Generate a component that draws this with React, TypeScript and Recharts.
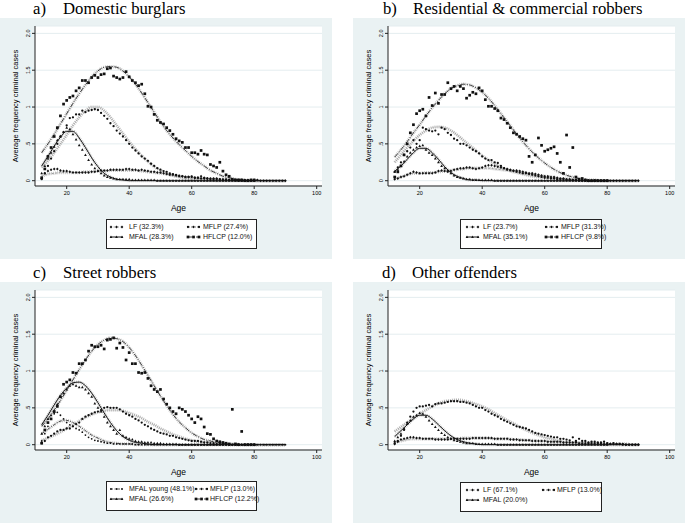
import React from 'react';
import { LineChart, Line, XAxis, YAxis, CartesianGrid } from 'recharts';

const _ = null;

// ages with observed averages (one point per year)
const AGES = [
  12, 13, 14, 15, 16, 17, 18, 19, 20, 21, 22, 23, 24, 25, 26, 27, 28, 29, 30, 31,
  32, 33, 34, 35, 36, 37, 38, 39, 40, 41, 42, 43, 44, 45, 46, 47, 48, 49, 50, 51,
  52, 53, 54, 55, 56, 57, 58, 59, 60, 61, 62, 63, 64, 65, 66, 67, 68, 69, 70, 71,
  72, 73, 74, 75, 76, 77, 78, 79, 80, 81, 82, 83, 84, 85, 86, 87, 88, 89, 90,
];
// ages at which the fitted trajectories were read
const FIT_AGES = [
  12, 14, 16, 18, 20, 22, 24, 26, 28, 30, 32, 34, 36, 38, 40, 42, 44, 46, 48, 50,
  52, 54, 56, 58, 60, 62, 64, 66, 68, 70, 72, 74, 76, 78, 80, 82, 84, 86, 88, 90,
];
const X_TICKS = [20, 40, 60, 80, 100];
const Y_TICKS = [0, 0.5, 1, 1.5, 2];

// ---- a) Domestic burglars
const A_LF_OBS = [
  0.03, 0.10, 0.13, 0.15, 0.16, 0.16, 0.14, 0.13, 0.13, 0.12,
  0.11, 0.11, 0.11, 0.11, 0.11, 0.11, 0.12, 0.12, 0.13, 0.14,
  0.14, 0.14, 0.15, 0.15, 0.15, 0.15, 0.15, 0.16, 0.16, 0.15,
  0.15, 0.14, 0.15, 0.14, 0.13, 0.12, 0.12, 0.11, 0.11, 0.10,
  0.09, 0.08, 0.08, 0.07, 0.06, 0.06, 0.05, 0.05, 0.05, 0.04,
  0.04, 0.06, 0.04, 0.03, 0.03, 0.03, 0.03, 0.02, 0.02, 0.02,
  0.01, 0.01, 0.01, 0.01, 0.01, 0.01, 0.01, 0.01, 0.01, 0.01,
  0, 0, 0, 0, 0, 0, 0, 0, 0,
];
const A_MFLP_OBS = [
  0.02, 0.10, 0.20, 0.30, 0.40, 0.50, 0.60, 0.66, 0.75, 0.85,
  0.86, 0.90, 0.90, 0.95, 0.93, 0.95, 0.96, 0.97, 0.96, 0.92,
  0.88, 0.84, 0.78, 0.74, 0.68, 0.64, 0.60, 0.55, 0.50, 0.45,
  0.41, 0.37, 0.33, 0.30, 0.27, 0.23, 0.20, 0.17, 0.15, 0.13,
  0.12, 0.10, 0.09, 0.08, 0.07, 0.06, 0.05, 0.05, 0.06, 0.04,
  0.04, 0.03, 0.03, 0.03, 0.02, 0.02, 0.02, 0.02, 0.01, 0.01,
  0.01, 0.01, 0.01, 0, 0, 0, 0, 0, 0, _,
  _, _, _, _, _, _, _, _, _,
];
const A_MFAL_OBS = [
  0.10, 0.20, 0.30, 0.38, 0.46, 0.55, 0.60, 0.66, 0.72, 0.70,
  0.63, 0.56, 0.48, 0.42, 0.35, 0.28, 0.22, 0.17, 0.13, 0.10,
  0.07, 0.05, 0.04, 0.03, 0.02, 0.02, 0.02, 0.02, 0.02, 0.01,
  0.01, 0.01, 0.01, 0.01, 0.01, 0.01, 0.01, 0, 0, 0,
  0, 0, 0, 0, 0, 0, 0, 0, 0, 0,
  0, 0, 0, 0, 0, 0, 0, 0, 0, 0,
  0, 0, 0, 0, 0, 0, 0, 0, 0, _,
  _, _, _, _, _, _, _, _, _,
];
const A_HFLCP_OBS = [
  0.04, 0.16, 0.33, 0.45, 0.60, 0.72, 0.88, 1.04, 1.09, 1.13,
  1.15, 1.22, 1.26, 1.36, 1.36, 1.33, 1.40, 1.43, 1.40, 1.44,
  1.45, 1.52, 1.53, 1.42, 1.40, 1.38, 1.40, 1.48, 1.41, 1.36,
  1.33, 1.29, 1.31, 1.18, 1.01, 1.00, 0.90, 0.82, 0.79, 0.77,
  0.72, 0.68, 0.63, 0.57, 0.54, 0.52, 0.45, 0.45, 0.38, 0.38,
  0.36, 0.41, 0.36, 0.35, 0.22, 0.20, 0.18, 0.25, 0.13, 0.08,
  0.06, 0.02, 0.01, 0.01, 0.01, 0, 0, 0.01, 0.01, _,
  _, _, _, _, _, _, _, _, _,
];
const A_LF_FIT = [
  0.06, 0.09, 0.10, 0.11, 0.11, 0.11, 0.11, 0.12, 0.12, 0.13,
  0.13, 0.14, 0.14, 0.14, 0.14, 0.14, 0.13, 0.12, 0.11, 0.10,
  0.09, 0.07, 0.06, 0.05, 0.04, 0.03, 0.03, 0.02, 0.02, 0.01,
  0.01, 0.01, 0.01, 0, 0, 0, 0, 0, 0, 0,
];
const A_MFLP_FIT = [
  0.18, 0.27, 0.38, 0.50, 0.62, 0.75, 0.86, 0.95, 1.00, 1.00,
  0.95, 0.86, 0.75, 0.64, 0.53, 0.43, 0.34, 0.26, 0.19, 0.14,
  0.10, 0.07, 0.05, 0.03, 0.02, 0.01, 0.01, 0.01, 0, 0,
  0, 0, 0, 0, 0, 0, 0, 0, 0, 0,
];
const A_MFAL_FIT = [
  0.20, 0.33, 0.47, 0.59, 0.67, 0.67, 0.58, 0.45, 0.31, 0.19,
  0.10, 0.05, 0.02, 0.01, 0, 0, 0, 0, 0, 0,
  0, 0, 0, 0, 0, 0, 0, 0, 0, 0,
  0, 0, 0, 0, 0, 0, 0, 0, 0, 0,
];
const A_HFLCP_FIT = [
  0.38, 0.50, 0.63, 0.77, 0.91, 1.05, 1.18, 1.30, 1.41, 1.49,
  1.54, 1.55, 1.54, 1.49, 1.41, 1.31, 1.19, 1.06, 0.93, 0.80,
  0.68, 0.58, 0.49, 0.41, 0.33, 0.26, 0.20, 0.14, 0.10, 0.06,
  0.04, 0.02, 0.01, 0, 0, 0, 0, 0, 0, 0,
];

// ---- b) Residential & commercial robbers
const B_LF_OBS = [
  0.02, 0.03, 0.05, 0.06, 0.08, 0.10, 0.12, 0.11, 0.10, 0.10,
  0.10, 0.10, 0.10, 0.11, 0.13, 0.14, 0.13, 0.12, 0.13, 0.15,
  0.16, 0.17, 0.17, 0.18, 0.18, 0.17, 0.16, 0.17, 0.18, 0.20,
  0.21, 0.21, 0.20, 0.19, 0.18, 0.17, 0.16, 0.15, 0.14, 0.14,
  0.13, 0.12, 0.11, 0.10, 0.10, 0.09, 0.08, 0.07, 0.06, 0.06,
  0.05, 0.05, 0.04, 0.03, 0.03, 0.02, 0.02, 0.01, 0.01, 0.01,
  0.01, 0.01, 0, 0, 0, 0, 0, 0, 0, 0,
  0, 0, 0, 0, 0, 0, 0, 0, 0,
];
const B_MFLP_OBS = [
  0.12, 0.18, 0.25, 0.35, 0.40, 0.45, 0.55, 0.50, 0.55, 0.72,
  0.70, 0.68, 0.67, 0.68, 0.63, 0.72, 0.70, 0.65, 0.62, 0.57,
  0.55, 0.50, 0.50, 0.48, 0.45, 0.42, 0.40, 0.37, 0.33, 0.30,
  0.28, 0.28, 0.25, 0.24, 0.20, 0.17, 0.15, 0.14, 0.13, 0.12,
  0.11, 0.10, 0.10, 0.09, 0.08, 0.07, 0.06, 0.05, 0.04, 0.04,
  0.03, 0.03, 0.02, 0.02, 0.02, 0.01, 0.01, 0.01, 0.01, 0,
  0, 0, 0, 0, 0, 0, 0, 0, 0, _,
  _, _, _, _, _, _, _, _, _,
];
const B_MFAL_OBS = [
  0.12, 0.15, 0.20, 0.26, 0.33, 0.38, 0.42, 0.45, 0.47, 0.48,
  0.42, 0.38, 0.35, 0.30, 0.25, 0.20, 0.17, 0.14, 0.10, 0.07,
  0.05, 0.04, 0.03, 0.02, 0.02, 0.01, 0.01, 0.01, 0.01, 0.01,
  0.01, 0.01, 0, 0, 0, 0, 0, 0, 0, 0,
  0, 0, 0, 0, 0, 0, 0, 0, 0, 0,
  0, 0, 0, 0, 0, 0, 0, 0, 0, 0,
  0, 0, 0, 0, 0, 0, 0, 0, 0, _,
  _, _, _, _, _, _, _, _, _,
];
const B_HFLCP_OBS = [
  0.05, 0.12, 0.20, 0.35, 0.50, 0.65, 0.76, 0.91, 0.95, 0.97,
  0.88, 1.13, 1.02, 1.19, 1.05, 1.17, 1.17, 1.33, 1.25, 1.28,
  1.22, 1.28, 1.25, 1.12, 1.16, 1.20, 1.18, 1.26, 1.22, 1.10,
  1.01, 1.01, 0.98, 0.95, 0.85, 0.83, 0.78, 0.72, 0.65, 0.63,
  0.60, 0.57, 0.55, 0.33, 0.25, 0.35, 0.58, 0.48, 0.40, 0.42,
  0.44, 0.46, 0.37, 0.25, 0.10, 0.62, 0.18, 0.45, 0.05, 0.02,
  0.03, 0.01, 0, 0, 0, 0, 0, 0, 0, _,
  _, _, _, _, _, _, _, _, _,
];
const B_LF_FIT = [
  0.03, 0.05, 0.08, 0.10, 0.10, 0.11, 0.11, 0.12, 0.13, 0.14,
  0.15, 0.16, 0.17, 0.17, 0.17, 0.17, 0.16, 0.15, 0.14, 0.13,
  0.12, 0.10, 0.09, 0.07, 0.06, 0.05, 0.03, 0.02, 0.02, 0.01,
  0.01, 0, 0, 0, 0, 0, 0, 0, 0, 0,
];
const B_MFLP_FIT = [
  0.25, 0.35, 0.45, 0.54, 0.62, 0.68, 0.72, 0.73, 0.72, 0.68,
  0.62, 0.55, 0.48, 0.41, 0.34, 0.28, 0.23, 0.18, 0.15, 0.12,
  0.10, 0.08, 0.06, 0.05, 0.04, 0.03, 0.02, 0.02, 0.01, 0.01,
  0, 0, 0, 0, 0, 0, 0, 0, 0, 0,
];
const B_MFAL_FIT = [
  0.13, 0.20, 0.29, 0.38, 0.44, 0.44, 0.38, 0.29, 0.19, 0.11,
  0.06, 0.03, 0.01, 0.01, 0, 0, 0, 0, 0, 0,
  0, 0, 0, 0, 0, 0, 0, 0, 0, 0,
  0, 0, 0, 0, 0, 0, 0, 0, 0, 0,
];
const B_HFLCP_FIT = [
  0.32, 0.42, 0.53, 0.65, 0.76, 0.88, 0.99, 1.09, 1.18, 1.25,
  1.29, 1.31, 1.30, 1.26, 1.20, 1.12, 1.02, 0.91, 0.80, 0.69,
  0.58, 0.48, 0.39, 0.31, 0.24, 0.18, 0.13, 0.09, 0.06, 0.04,
  0.02, 0.01, 0.01, 0, 0, 0, 0, 0, 0, 0,
];

// ---- c) Street robbers
const C_YOUNG_OBS = [
  0.05, 0.15, 0.25, 0.35, 0.42, 0.44, 0.40, 0.35, 0.30, 0.27,
  0.25, 0.22, 0.20, 0.17, 0.13, 0.10, 0.08, 0.06, 0.05, 0.04,
  0.03, 0.02, 0.02, 0.01, 0.01, 0.01, 0.01, 0.01, 0.01, 0.01,
  0, 0, 0, 0, 0, 0, 0, 0, 0, 0,
  0, 0, 0, 0, 0, 0, 0, 0, 0, 0,
  0, 0, 0, 0, 0, 0, 0, 0, 0, 0,
  0, 0, 0, 0, 0, 0, 0, 0, 0, 0,
  0, 0, 0, 0, 0, 0, 0, 0, 0,
];
const C_MFLP_OBS = [
  0.02, 0.05, 0.10, 0.12, 0.15, 0.18, 0.20, 0.20, 0.22, 0.22,
  0.25, 0.28, 0.30, 0.35, 0.38, 0.40, 0.42, 0.44, 0.45, 0.47,
  0.50, 0.51, 0.50, 0.50, 0.50, 0.48, 0.45, 0.42, 0.40, 0.38,
  0.35, 0.33, 0.30, 0.27, 0.25, 0.22, 0.20, 0.18, 0.16, 0.15,
  0.14, 0.12, 0.12, 0.10, 0.09, 0.08, 0.07, 0.06, 0.05, 0.05,
  0.05, 0.04, 0.03, 0.03, 0.02, 0.02, 0.01, 0.01, 0.01, 0.01,
  0, 0, 0, 0, 0, 0, 0, 0, 0, _,
  _, _, _, _, _, _, _, _, _,
];
const C_MFAL_OBS = [
  0.15, 0.25, 0.35, 0.40, 0.45, 0.55, 0.65, 0.70, 0.75, 0.80,
  0.82, 0.80, 0.78, 0.78, 0.75, 0.70, 0.65, 0.56, 0.50, 0.45,
  0.38, 0.30, 0.25, 0.20, 0.15, 0.20, 0.12, 0.10, 0.08, 0.07,
  0.05, 0.04, 0.04, 0.03, 0.03, 0.03, 0.02, 0.02, 0.02, 0.01,
  0.01, 0.01, 0.01, 0.01, 0, 0, 0, 0, 0, 0,
  0, 0, 0, 0, 0, 0, 0, 0, 0, 0,
  0, 0, 0, 0, 0, 0, 0, 0, 0, _,
  _, _, _, _, _, _, _, _, _,
];
const C_HFLCP_OBS = [
  0.02, 0.20, 0.30, 0.35, 0.45, 0.52, 0.65, 0.82, 0.85, 0.88,
  0.98, 0.97, 1.10, 1.10, 1.15, 1.27, 1.35, 1.33, 1.33, 1.35,
  1.30, 1.42, 1.43, 1.45, 1.31, 1.38, 1.32, 1.15, 1.25, 1.10,
  1.10, 0.98, 0.97, 0.98, 0.90, 0.80, 0.75, 0.72, 0.75, 0.62,
  0.55, 0.50, 0.45, 0.42, 0.50, 0.48, 0.45, 0.40, 0.35, 0.30,
  0.38, 0.35, 0.24, 0.15, 0.14, 0.08, 0.05, 0.04, 0.03, 0.02,
  0.01, 0.48, 0.01, 0, 0.18, 0, 0, 0, 0, _,
  _, _, _, _, _, _, _, _, _,
];
const C_YOUNG_FIT = [
  0.15, 0.21, 0.27, 0.32, 0.33, 0.30, 0.25, 0.19, 0.13, 0.09,
  0.05, 0.03, 0.02, 0.01, 0.01, 0, 0, 0, 0, 0,
  0, 0, 0, 0, 0, 0, 0, 0, 0, 0,
  0, 0, 0, 0, 0, 0, 0, 0, 0, 0,
];
const C_MFLP_FIT = [
  0.06, 0.09, 0.13, 0.17, 0.22, 0.27, 0.32, 0.37, 0.41, 0.44,
  0.46, 0.47, 0.47, 0.46, 0.43, 0.40, 0.36, 0.31, 0.27, 0.22,
  0.18, 0.14, 0.11, 0.08, 0.06, 0.04, 0.03, 0.02, 0.01, 0.01,
  0, 0, 0, 0, 0, 0, 0, 0, 0, 0,
];
const C_MFAL_FIT = [
  0.27, 0.40, 0.54, 0.67, 0.77, 0.84, 0.85, 0.80, 0.70, 0.57,
  0.43, 0.30, 0.19, 0.11, 0.06, 0.03, 0.02, 0.01, 0, 0,
  0, 0, 0, 0, 0, 0, 0, 0, 0, 0,
  0, 0, 0, 0, 0, 0, 0, 0, 0, 0,
];
const C_HFLCP_FIT = [
  0.25, 0.35, 0.47, 0.60, 0.74, 0.88, 1.02, 1.15, 1.27, 1.36,
  1.42, 1.45, 1.44, 1.40, 1.32, 1.21, 1.08, 0.94, 0.80, 0.66,
  0.53, 0.41, 0.31, 0.23, 0.16, 0.11, 0.07, 0.05, 0.03, 0.02,
  0.01, 0.01, 0, 0, 0, 0, 0, 0, 0, 0,
];

// ---- d) Other offenders
const D_LF_OBS = [
  0.01, 0.04, 0.07, 0.08, 0.09, 0.10, 0.10, 0.09, 0.09, 0.08,
  0.08, 0.08, 0.08, 0.07, 0.07, 0.07, 0.07, 0.07, 0.08, 0.08,
  0.08, 0.08, 0.08, 0.08, 0.08, 0.09, 0.09, 0.09, 0.09, 0.09,
  0.09, 0.09, 0.08, 0.08, 0.08, 0.08, 0.08, 0.07, 0.07, 0.07,
  0.06, 0.06, 0.06, 0.06, 0.05, 0.05, 0.05, 0.05, 0.05, 0.04,
  0.04, 0.04, 0.04, 0.04, 0.03, 0.03, 0.03, 0.03, 0.03, 0.02,
  0.02, 0.02, 0.02, 0.02, 0.02, 0.02, 0.02, 0.01, 0.01, 0.01,
  0.01, 0.01, 0.01, 0, 0, 0, 0, 0, 0,
];
const D_MFLP_OBS = [
  0.02, 0.05, 0.12, 0.20, 0.30, 0.38, 0.45, 0.50, 0.52, 0.52,
  0.53, 0.54, 0.52, 0.55, 0.56, 0.56, 0.57, 0.58, 0.59, 0.59,
  0.59, 0.58, 0.58, 0.57, 0.56, 0.54, 0.52, 0.50, 0.50, 0.47,
  0.45, 0.42, 0.40, 0.38, 0.35, 0.33, 0.31, 0.29, 0.27, 0.25,
  0.24, 0.23, 0.22, 0.20, 0.18, 0.16, 0.15, 0.14, 0.13, 0.12,
  0.11, 0.10, 0.10, 0.08, 0.08, 0.07, 0.06, 0.10, 0.05, 0.08,
  0.05, 0.05, 0.03, 0.04, 0.04, 0.03, 0.03, 0.04, 0.02, 0.01,
  0.02, 0.01, 0.01, 0.01, 0, 0, 0, 0, 0,
];
const D_MFAL_OBS = [
  0.05, 0.10, 0.15, 0.22, 0.28, 0.33, 0.38, 0.40, 0.43, 0.42,
  0.38, 0.33, 0.28, 0.24, 0.20, 0.16, 0.13, 0.10, 0.08, 0.06,
  0.05, 0.04, 0.03, 0.02, 0.02, 0.02, 0.01, 0.01, 0.01, 0.01,
  0.01, 0.01, 0.01, 0, 0, 0, 0, 0, 0, 0,
  0, 0, 0, 0, 0, 0, 0, 0, 0, 0,
  0, 0, 0, 0, 0, 0, 0, 0, 0, 0,
  0, 0, 0, 0, 0, 0, 0, 0, 0, _,
  _, _, _, _, _, _, _, _, _,
];
const D_LF_FIT = [
  0.03, 0.05, 0.07, 0.08, 0.08, 0.08, 0.08, 0.08, 0.08, 0.08,
  0.08, 0.09, 0.09, 0.09, 0.09, 0.09, 0.08, 0.08, 0.08, 0.07,
  0.07, 0.06, 0.06, 0.05, 0.05, 0.04, 0.04, 0.03, 0.03, 0.03,
  0.02, 0.02, 0.02, 0.01, 0.01, 0.01, 0.01, 0.01, 0, 0,
];
const D_MFLP_FIT = [
  0.18, 0.24, 0.30, 0.36, 0.42, 0.47, 0.52, 0.56, 0.59, 0.60,
  0.61, 0.60, 0.58, 0.55, 0.52, 0.48, 0.43, 0.38, 0.33, 0.29,
  0.24, 0.20, 0.16, 0.13, 0.10, 0.08, 0.06, 0.04, 0.03, 0.02,
  0.02, 0.01, 0.01, 0, 0, 0, 0, 0, 0, 0,
];
const D_MFAL_FIT = [
  0.11, 0.19, 0.27, 0.35, 0.40, 0.40, 0.35, 0.27, 0.19, 0.12,
  0.07, 0.04, 0.02, 0.01, 0, 0, 0, 0, 0, 0,
  0, 0, 0, 0, 0, 0, 0, 0, 0, 0,
  0, 0, 0, 0, 0, 0, 0, 0, 0, 0,
];

type Row = Record<string, number | null>;

const buildRows = (obs: Record<string, (number | null)[]>, fit: Record<string, number[]>): Row[] =>
  AGES.map((age, i) => {
    const row: Row = { age };
    Object.keys(obs).forEach((k) => { row[k + 'Obs'] = obs[k][i]; });
    const j = FIT_AGES.indexOf(age);
    Object.keys(fit).forEach((k) => { row[k + 'Fit'] = j >= 0 ? fit[k][j] : null; });
    return row;
  });

const STYLE: Record<string, { shape: string; stroke: string; width: number; dash?: string }> = {
  lf: { shape: 'diamond', stroke: '#8a8a8a', width: 0.8, dash: '2 1.5' },
  mflp: { shape: 'circle', stroke: '#a6a6a6', width: 1.3, dash: '1 1' },
  mfal: { shape: 'triangle', stroke: '#000', width: 0.9 },
  hflcp: { shape: 'square', stroke: '#111', width: 0.8, dash: '5 1.5 1 1.5' },
  young: { shape: 'small', stroke: '#222', width: 0.8, dash: '3 1.5 1 1.5' },
};

const drawMarker = (shape: string, cx: number, cy: number, key: string | number) => {
  if (shape === 'diamond')
    return <polygon key={key} points={`${cx},${cy - 1.5} ${cx + 1.3},${cy} ${cx},${cy + 1.5} ${cx - 1.3},${cy}`} fill="#111" />;
  if (shape === 'triangle')
    return <polygon key={key} points={`${cx},${cy - 1.5} ${cx + 1.4},${cy + 1} ${cx - 1.4},${cy + 1}`} fill="#111" />;
  if (shape === 'square')
    return <rect key={key} x={cx - 1.35} y={cy - 1.35} width={2.7} height={2.7} fill="#111" />;
  if (shape === 'small') return <circle key={key} cx={cx} cy={cy} r={0.9} fill="#111" />;
  return <circle key={key} cx={cx} cy={cy} r={1.15} fill="#111" />;
};

const dotFor = (shape: string) => (p: any) => {
  if (p.value == null || p.cx == null || p.cy == null || Number.isNaN(p.cy)) return <g key={p.index} />;
  return drawMarker(shape, p.cx, p.cy, p.index);
};

const yLabel = (v: number) => (v === 2 ? '2.0' : v === 0.5 ? '.5' : String(v));

const YTick = (props: any) => {
  const { x, y, payload } = props;
  return (
    <text x={x} y={y} transform={`rotate(-90 ${x} ${y})`} textAnchor="middle" fontSize={5.5} fill="#000">
      {yLabel(payload.value)}
    </text>
  );
};

const PANEL_BG = '#eaf2f3';
const FONT = '"Liberation Sans", Arial, sans-serif';
const SERIF = '"Liberation Serif", "Times New Roman", serif';

interface Series { key: string; style: string; label: string }
interface LegendPos { x: number; y: number; w: number; s1: number; l1: number; s2: number; l2: number }

function Sample({ style }: { style: string }) {
  const s = STYLE[style];
  return (
    <svg width={15} height={8} style={{ display: 'block' }}>
      <line x1={1} y1={4} x2={14} y2={4} stroke={s.stroke} strokeWidth={s.width} strokeDasharray={s.dash} />
      {[2, 7.5, 13].map((x) => drawMarker(s.shape, x, 4, x))}
    </svg>
  );
}

function Panel({
  left, top, letter, letterX, title, titleX, rows, series, legend,
}: {
  left: number; top: number; letter: string; letterX: number; title: string; titleX: number;
  rows: Row[]; series: Series[]; legend: LegendPos;
}) {
  const titleStyle: React.CSSProperties = {
    position: 'absolute', top: top - 17, fontFamily: SERIF, fontSize: 16.7, lineHeight: '16px', whiteSpace: 'nowrap',
  };
  return (
    <>
      <div style={{ ...titleStyle, left: left + letterX }}>{letter}</div>
      <div style={{ ...titleStyle, left: left + titleX }}>{title}</div>
      <div style={{ position: 'absolute', left, top, width: 332, height: 241, background: PANEL_BG, fontFamily: FONT }}>
        <LineChart width={332} height={200} data={rows} margin={{ top: 8, right: 10, bottom: 0, left: 0 }}>
          <CartesianGrid vertical={false} fill="#fff" fillOpacity={1} stroke="#e4edef" />
          <XAxis type="number" dataKey="age" domain={[9.86, 101.7]} ticks={X_TICKS} allowDataOverflow interval={0}
            height={32} tickSize={3} stroke="#222" tick={{ fontSize: 5.5, fill: '#000' }} />
          <YAxis type="number" domain={[-0.072, 2.1]} ticks={Y_TICKS} allowDataOverflow interval={0}
            width={35} tickSize={3} stroke="#222" tick={<YTick />} />
          {series.map((s) => (
            <Line key={s.key + 'ci'} type="monotone" dataKey={s.key + 'Fit'} stroke="#c6c6c6" strokeWidth={3.2}
              strokeDasharray="1 1" dot={false} activeDot={false} connectNulls isAnimationActive={false} legendType="none" />
          ))}
          {series.map((s) => (
            <Line key={s.key + 'fit'} type="monotone" dataKey={s.key + 'Fit'} stroke={STYLE[s.style].stroke}
              strokeWidth={STYLE[s.style].width} strokeDasharray={STYLE[s.style].dash} dot={false} activeDot={false}
              connectNulls isAnimationActive={false} legendType="none" />
          ))}
          {series.map((s) => (
            <Line key={s.key + 'obs'} dataKey={s.key + 'Obs'} stroke="none" dot={dotFor(STYLE[s.style].shape)}
              activeDot={false} isAnimationActive={false} legendType="none" />
          ))}
        </LineChart>
        <div style={{ position: 'absolute', left: 15, top: 88, transform: 'translate(-50%, -50%) rotate(-90deg)', fontSize: 7.5, whiteSpace: 'nowrap', color: '#000' }}>
          Average frequency criminal cases
        </div>
        <div style={{ position: 'absolute', left: 178.5, top: 190, transform: 'translate(-50%, -50%)', fontSize: 8.5, color: '#000' }}>Age</div>
        <div style={{ position: 'absolute', left: legend.x, top: legend.y, width: legend.w, height: 30, boxSizing: 'border-box', border: '1px solid #222', background: '#fff' }}>
          {series.map((s, i) => {
            const col = i % 2;
            const rowY = i < 2 ? 8 : 18;
            const sx = (col === 0 ? legend.s1 : legend.s2) - legend.x - 1;
            const lx = (col === 0 ? legend.l1 : legend.l2) - legend.x - 1;
            return (
              <React.Fragment key={s.key}>
                <div style={{ position: 'absolute', left: sx, top: rowY - 5 }}><Sample style={s.style} /></div>
                <div style={{ position: 'absolute', left: lx, top: rowY - 5, fontSize: 7, lineHeight: '8px', whiteSpace: 'nowrap', color: '#111' }}>{s.label}</div>
              </React.Fragment>
            );
          })}
        </div>
      </div>
    </>
  );
}

const ROWS_A = buildRows(
  { lf: A_LF_OBS, mflp: A_MFLP_OBS, mfal: A_MFAL_OBS, hflcp: A_HFLCP_OBS },
  { lf: A_LF_FIT, mflp: A_MFLP_FIT, mfal: A_MFAL_FIT, hflcp: A_HFLCP_FIT },
);
const ROWS_B = buildRows(
  { lf: B_LF_OBS, mflp: B_MFLP_OBS, mfal: B_MFAL_OBS, hflcp: B_HFLCP_OBS },
  { lf: B_LF_FIT, mflp: B_MFLP_FIT, mfal: B_MFAL_FIT, hflcp: B_HFLCP_FIT },
);
const ROWS_C = buildRows(
  { young: C_YOUNG_OBS, mflp: C_MFLP_OBS, mfal: C_MFAL_OBS, hflcp: C_HFLCP_OBS },
  { young: C_YOUNG_FIT, mflp: C_MFLP_FIT, mfal: C_MFAL_FIT, hflcp: C_HFLCP_FIT },
);
const ROWS_D = buildRows(
  { lf: D_LF_OBS, mflp: D_MFLP_OBS, mfal: D_MFAL_OBS },
  { lf: D_LF_FIT, mflp: D_MFLP_FIT, mfal: D_MFAL_FIT },
);

export default function App() {
  return (
    <div style={{ position: 'absolute', left: 0, top: 0, width: 685, height: 523, background: '#fff', overflow: 'hidden' }}>
      <Panel left={0} top={18} letter="a)" letterX={33} title="Domestic burglars" titleX={63} rows={ROWS_A}
        series={[
          { key: 'lf', style: 'lf', label: 'LF (32.3%)' },
          { key: 'mflp', style: 'mflp', label: 'MFLP (27.4%)' },
          { key: 'mfal', style: 'mfal', label: 'MFAL (28.3%)' },
          { key: 'hflcp', style: 'hflcp', label: 'HFLCP (12.0%)' },
        ]}
        legend={{ x: 106, y: 201, w: 151, s1: 109, l1: 129, s2: 186, l2: 203 }} />
      <Panel left={353} top={18} letter="b)" letterX={30} title="Residential & commercial robbers" titleX={60} rows={ROWS_B}
        series={[
          { key: 'lf', style: 'lf', label: 'LF (23.7%)' },
          { key: 'mflp', style: 'mflp', label: 'MFLP (31.3%)' },
          { key: 'mfal', style: 'mfal', label: 'MFAL (35.1%)' },
          { key: 'hflcp', style: 'hflcp', label: 'HFLCP (9.8%)' },
        ]}
        legend={{ x: 107, y: 201, w: 142, s1: 112, l1: 130, s2: 191, l2: 208 }} />
      <Panel left={0} top={282} letter="c)" letterX={33} title="Street robbers" titleX={63} rows={ROWS_C}
        series={[
          { key: 'young', style: 'young', label: 'MFAL young (48.1%)' },
          { key: 'mflp', style: 'mflp', label: 'MFLP (13.0%)' },
          { key: 'mfal', style: 'mfal', label: 'MFAL (26.6%)' },
          { key: 'hflcp', style: 'hflcp', label: 'HFLCP (12.2%)' },
        ]}
        legend={{ x: 106, y: 199, w: 151, s1: 109, l1: 129, s2: 194, l2: 210 }} />
      <Panel left={353} top={282} letter="d)" letterX={29} title="Other offenders" titleX={59} rows={ROWS_D}
        series={[
          { key: 'lf', style: 'lf', label: 'LF (67.1%)' },
          { key: 'mflp', style: 'mflp', label: 'MFLP (13.0%)' },
          { key: 'mfal', style: 'mfal', label: 'MFAL (20.0%)' },
        ]}
        legend={{ x: 107, y: 200, w: 142, s1: 112, l1: 130, s2: 188, l2: 204 }} />
    </div>
  );
}
